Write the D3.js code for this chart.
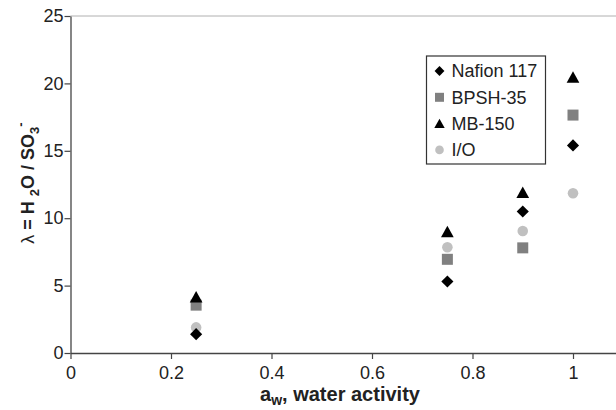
<!DOCTYPE html>
<html>
<head>
<meta charset="utf-8">
<script src="https://cdn.jsdelivr.net/npm/d3@7"></script>
<style>
  body { margin: 0; background: #fff; }
  svg { display: block; font-family: Arial, "Liberation Sans", sans-serif; }
</style>
</head>
<body>
<div id="chart"></div>
<script>
// water activity values
const activity = [0.25, 0.75, 0.9, 1.0];

// lambda values per membrane
const nafion = [1.4, 5.3, 10.5, 15.4];
const bpsh = [3.55, 6.95, 7.8, 17.65];
const mb150 = [4.15, 9.0, 11.9, 20.45];
const io = [1.9, 7.85, 9.05, 11.85];

const seriesNames = ['Nafion 117', 'BPSH-35', 'MB-150', 'I/O'];
const xTicks = [0, 0.2, 0.4, 0.6, 0.8, 1];
const yTicks = [0, 5, 10, 15, 20, 25];

const width = 616, height = 410;
const margin = { top: 16, left: 70.5, bottom: 57 };

const svg = d3.select('#chart').append('svg')
  .attr('width', width)
  .attr('height', height);

const x = d3.scaleLinear().domain([0, 1.1]).range([margin.left, margin.left + 552.75]);
const y = d3.scaleLinear().domain([0, 25]).range([height - margin.bottom, margin.top]);

// top frame line
svg.append('line')
  .attr('x1', x(0)).attr('x2', width)
  .attr('y1', y(25)).attr('y2', y(25))
  .attr('stroke', '#b0b0b0').attr('stroke-width', 1);

const xAxis = svg.append('g')
  .attr('transform', `translate(0,${y(0)})`)
  .call(d3.axisBottom(x).tickValues(xTicks).tickSize(6).tickSizeOuter(0).tickFormat(d3.format('')));

const yAxis = svg.append('g')
  .attr('transform', `translate(${x(0)},0)`)
  .call(d3.axisLeft(y).tickValues(yTicks).tickSize(6).tickSizeOuter(0));

[xAxis, yAxis].forEach(g => {
  g.select('.domain').attr('stroke', '#444').attr('stroke-width', 1.3);
  g.selectAll('.tick line').attr('stroke', '#444').attr('stroke-width', 1.2);
  g.selectAll('.tick text').attr('fill', '#222').style('font-size', '18px');
});
xAxis.selectAll('.tick text').attr('dy', '0.95em');
yAxis.selectAll('.tick text').attr('x', -7);

// marker shapes
const fills = {
  'Nafion 117': '#000',
  'BPSH-35': '#808080',
  'MB-150': '#000',
  'I/O': '#c0c0c0'
};

function marker(sel, name, size) {
  const fill = fills[name];
  const h = size * 0.55;
  if (name === 'I/O') {
    sel.append('circle').attr('r', size * 0.48).attr('fill', fill);
  } else if (name === 'BPSH-35') {
    sel.append('rect').attr('x', -size / 2).attr('y', -size / 2)
      .attr('width', size).attr('height', size).attr('fill', fill);
  } else if (name === 'Nafion 117') {
    sel.append('path').attr('d', `M0,${-h}L${h},0L0,${h}L${-h},0Z`).attr('fill', fill);
  } else {
    sel.append('path').attr('d', `M0,${-h}L${h * 1.05},${h * 0.9}L${-h * 1.05},${h * 0.9}Z`).attr('fill', fill);
  }
}

const allSeries = [
  { name: 'I/O', values: io },
  { name: 'BPSH-35', values: bpsh },
  { name: 'Nafion 117', values: nafion },
  { name: 'MB-150', values: mb150 }
];

allSeries.forEach(s => {
  s.values.forEach((v, i) => {
    const g = svg.append('g').attr('transform', `translate(${x(activity[i])},${y(v)})`);
    marker(g, s.name, 11);
  });
});

// legend
const legend = svg.append('g').attr('transform', 'translate(426.5,56)');
legend.append('rect')
  .attr('width', 119).attr('height', 108)
  .attr('fill', '#fff').attr('stroke', '#333').attr('stroke-width', 1.2);

seriesNames.forEach((name, i) => {
  const row = legend.append('g').attr('transform', `translate(13,${15 + i * 26.3})`);
  marker(row, name, 9);
  row.append('text')
    .attr('x', 12).attr('y', 0).attr('dy', '0.35em')
    .style('font-size', '18px').attr('fill', '#222')
    .text(name);
});

// x label
const xl = svg.append('text')
  .attr('x', 340).attr('y', 401)
  .attr('text-anchor', 'middle')
  .style('font-size', '20px').style('font-weight', 'bold').attr('fill', '#222');
xl.append('tspan').text('a');
xl.append('tspan').attr('dy', 4).style('font-size', '14px').text('w');
xl.append('tspan').attr('dy', -4).text(', water activity');

// y label
const yl = svg.append('text')
  .attr('transform', 'translate(34,183) rotate(-90)')
  .attr('text-anchor', 'middle')
  .style('font-size', '18px').style('font-weight', 'bold').attr('fill', '#222');
yl.append('tspan').style('font-weight', 'normal').text('λ');
yl.append('tspan').text(' = H ');
yl.append('tspan').attr('dy', 5).style('font-size', '13px').text('2');
yl.append('tspan').attr('dy', -5).text('O / SO');
yl.append('tspan').attr('dy', 5).style('font-size', '13px').text('3');
yl.append('tspan').attr('dy', -14).style('font-size', '13px').text('-');
</script>
</body>
</html>
